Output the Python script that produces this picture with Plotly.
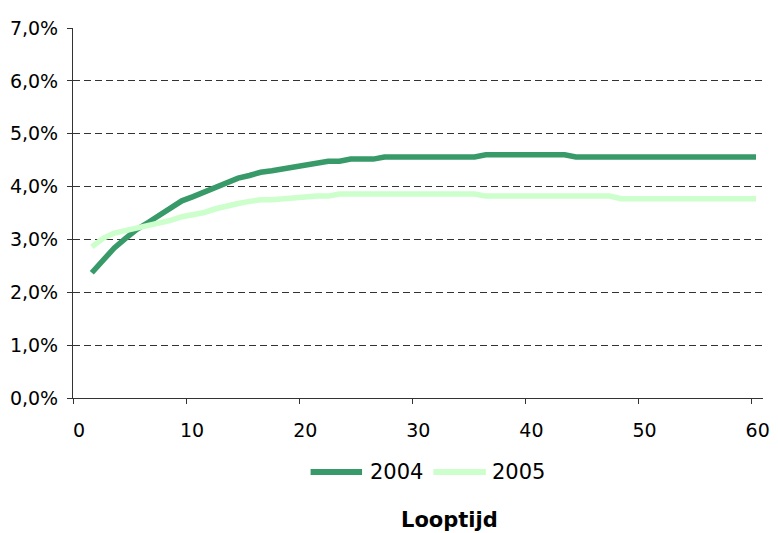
import plotly.graph_objects as go

# Looptijd (years) and rates in percent for both years
looptijd = list(range(1, 61))

rente_2004 = [
    2.37, 2.62, 2.84, 3.02, 3.19, 3.32, 3.46, 3.62, 3.73, 3.81,
    3.90, 3.98, 4.09, 4.16, 4.21, 4.27, 4.30, 4.34, 4.38, 4.42,
    4.45, 4.48, 4.48, 4.52, 4.52, 4.52, 4.56, 4.56, 4.56, 4.56,
    4.56, 4.56, 4.56, 4.56, 4.56, 4.60, 4.60, 4.60, 4.60, 4.60,
    4.60, 4.60, 4.60, 4.56, 4.56, 4.56, 4.56, 4.56, 4.56, 4.56,
    4.56, 4.56, 4.56, 4.56, 4.56, 4.56, 4.56, 4.56, 4.56, 4.56,
]

rente_2005 = [
    2.86, 3.02, 3.12, 3.17, 3.21, 3.25, 3.30, 3.36, 3.43, 3.47,
    3.51, 3.58, 3.64, 3.68, 3.72, 3.75, 3.75, 3.77, 3.79, 3.81,
    3.82, 3.82, 3.86, 3.86, 3.86, 3.86, 3.86, 3.86, 3.86, 3.86,
    3.86, 3.86, 3.86, 3.86, 3.86, 3.82, 3.82, 3.82, 3.82, 3.82,
    3.82, 3.82, 3.82, 3.82, 3.82, 3.82, 3.82, 3.77, 3.77, 3.77,
    3.77, 3.77, 3.77, 3.77, 3.77, 3.77, 3.77, 3.77, 3.77, 3.77,
]

series_names = ["2004", "2005"]
series_colors = ["#379A68", "#CCFFCC"]

y_tickvals = [0, 1, 2, 3, 4, 5, 6, 7]
y_ticktext = ["0,0%", "1,0%", "2,0%", "3,0%", "4,0%", "5,0%", "6,0%", "7,0%"]
x_tickvals = [0, 10, 20, 30, 40, 50, 60]
x_range = [0, 61]

FONT = "DejaVu Sans"
W, H = 778, 533
M_L, M_R, M_T, M_B = 73, 8, 28, 135
PW, PH = W - M_L - M_R, H - M_T - M_B


def px_x(px):
    return (px - M_L) / PW


def px_y(py):
    return (H - M_B - py) / PH


fig = go.Figure()

# empty trace so the labelled x axis gets its own subplot
fig.add_trace(go.Scatter(x=x_range, y=[None, None], mode="lines",
                         xaxis="x", yaxis="y", showlegend=False,
                         hoverinfo="skip"))

for name, vals, col in zip(series_names, [rente_2004, rente_2005], series_colors):
    fig.add_trace(go.Scatter(
        x=looptijd, y=vals, name=name, mode="lines",
        line=dict(color=col, width=5.5, shape="linear"),
        xaxis="x2", yaxis="y", showlegend=False,
        hoverinfo="skip",
    ))

# legend drawn below the axis
legend_items = [(313, 365, 371), (437, 490, 494)]
for (x0, x1, xt), name, col in zip(legend_items, series_names, series_colors):
    fig.add_shape(type="line", xref="paper", yref="paper",
                  x0=px_x(x0), x1=px_x(x1), y0=px_y(472), y1=px_y(472),
                  line=dict(color=col, width=6))
    fig.add_annotation(text=name, xref="paper", yref="paper",
                       x=px_x(xt), y=px_y(472), xanchor="left", yanchor="middle",
                       showarrow=False, font=dict(family=FONT, size=21, color="#000"))

fig.add_annotation(text="<b>Looptijd</b>", xref="paper", yref="paper",
                   x=px_x(453), y=px_y(520), xanchor="center", yanchor="middle",
                   showarrow=False, font=dict(family=FONT, size=21, color="#000"))

fig.update_layout(
    width=W, height=H,
    margin=dict(l=M_L, r=M_R, t=M_T, b=M_B, pad=0),
    paper_bgcolor="white", plot_bgcolor="white",
    font=dict(family=FONT, size=19, color="#000"),
    xaxis=dict(
        range=x_range, tickvals=x_tickvals, showgrid=False, zeroline=False,
        showline=True, linecolor="#333", linewidth=1,
        ticks="outside", ticklen=5, tickcolor="#333", tickwidth=1,
        ticklabelshift=6, ticklabelstandoff=10,
        tickfont=dict(family=FONT, size=19, color="#000"),
    ),
    xaxis2=dict(
        range=[-0.67, 60.62], overlaying="x", visible=False,
    ),
    yaxis=dict(
        range=[0, 7], tickvals=y_tickvals, ticktext=y_ticktext,
        showgrid=True, gridcolor="#333", gridwidth=1, griddash="7px,4px",
        zeroline=False, showline=True, linecolor="#333", linewidth=1,
        ticks="outside", ticklen=5, tickcolor="#333", tickwidth=1,
        ticklabelstandoff=5,
        tickfont=dict(family=FONT, size=19, color="#000"),
    ),
    showlegend=False,
)

fig.write_html("out.html")
